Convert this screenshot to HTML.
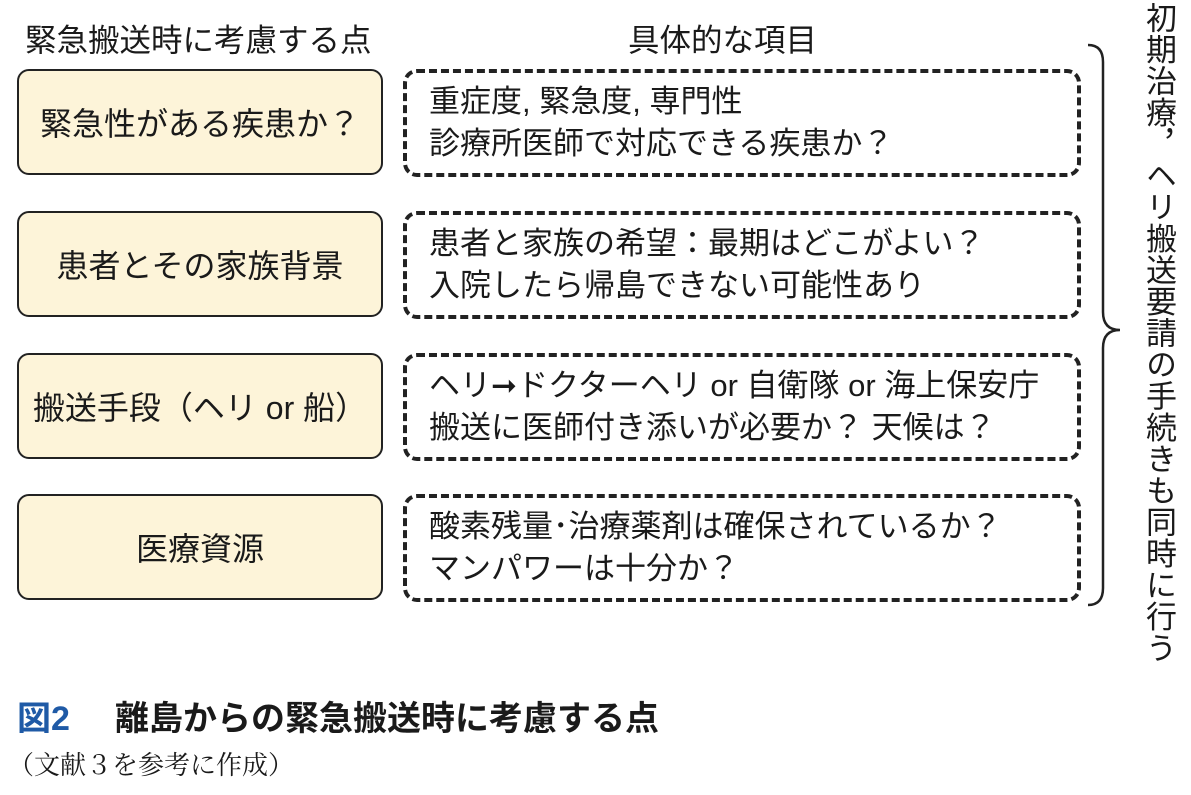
<!DOCTYPE html>
<html><head><meta charset="utf-8"><style>
body{margin:0;width:1191px;height:795px;background:#fff;position:relative;overflow:hidden;font-family:"Liberation Sans","Noto Sans CJK JP",sans-serif;color:#1a1a1a}
.h{position:absolute;top:18px;font-size:31.5px;line-height:44px;white-space:nowrap}
.l{position:absolute;left:17px;width:362px;height:102px;border:2px solid #222;border-radius:12px;background:#fdf4d9;display:flex;align-items:center;justify-content:center;font-size:32px;white-space:nowrap}
.r{position:absolute;left:403px;height:100px;border:4px dashed #222;border-radius:14px;font-size:31px;line-height:42px;padding-left:22px;box-sizing:content-box;display:flex;flex-direction:column;justify-content:center;white-space:nowrap}
.v{position:absolute;left:1138px;top:2px;writing-mode:vertical-rl;font-size:31px;line-height:40px;letter-spacing:0.5px}
</style></head><body>
<div class="h" style="left:25px">緊急搬送時に考慮する点</div>
<div class="h" style="left:628px">具体的な項目</div>

<div class="l" style="top:69px">緊急性がある疾患か？</div>
<div class="l" style="top:211px">患者とその家族背景</div>
<div class="l" style="top:353px">搬送手段（ヘリ or 船）</div>
<div class="l" style="top:494px">医療資源</div>

<div class="r" style="top:69px;width:648px"><div>重症度, 緊急度, 専門性</div><div>診療所医師で対応できる疾患か？</div></div>
<div class="r" style="top:211px;width:648px"><div>患者と家族の希望：最期はどこがよい？</div><div>入院したら帰島できない可能性あり</div></div>
<div class="r" style="top:353px;width:648px"><div>ヘリ➞ドクターヘリ or 自衛隊 or 海上保安庁</div><div>搬送に医師付き添いが必要か？ 天候は？</div></div>
<div class="r" style="top:494px;width:648px"><div>酸素残量･治療薬剤は確保されているか？</div><div>マンパワーは十分か？</div></div>

<svg style="position:absolute;left:0;top:0" width="1191" height="795">
<path d="M1088 45 Q1103 45 1103 62 L1103 312 Q1103 330 1120 330 Q1103 330 1103 348 L1103 588 Q1103 605 1088 605" fill="none" stroke="#222" stroke-width="2.5"/>
</svg>
<div class="v">初期治療，ヘリ搬送要請の手続きも同時に行う</div>

<div style="position:absolute;left:17px;top:697px;font-size:34px;font-weight:bold;line-height:44px;white-space:nowrap"><span style="color:#1f5aa6">図2</span><span style="position:absolute;left:98px;top:0">離島からの緊急搬送時に考慮する点</span></div>
<div style="position:absolute;left:8px;top:748px;font-size:26px;line-height:36px;white-space:nowrap;font-family:'Liberation Serif','Noto Serif CJK SC',serif">（文献３を参考に作成）</div>
</body></html>
